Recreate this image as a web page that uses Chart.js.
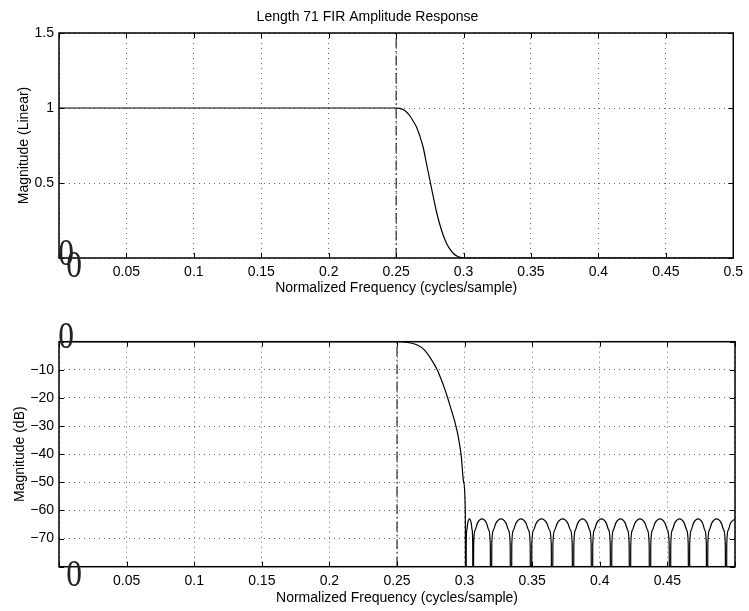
<!DOCTYPE html>
<html>
<head>
<meta charset="utf-8">
<script src="https://cdn.jsdelivr.net/npm/chart.js@4.4.0/dist/chart.umd.min.js"></script>
<style>
body { margin: 0; background: #fff; }
canvas { display: block; }
</style>
</head>
<body>
<canvas id="linChart" width="749" height="300"></canvas>
<canvas id="dbChart" width="749" height="311"></canvas>
<script>
// axis ticks
var xTicks = [0, 0.05, 0.1, 0.15, 0.2, 0.25, 0.3, 0.35, 0.4, 0.45, 0.5];
var xTickLabels = ['0', '0.05', '0.1', '0.15', '0.2', '0.25', '0.3', '0.35', '0.4', '0.45', '0.5'];
var linTicks = [0, 0.5, 1, 1.5];
var linTickLabels = ['0', '0.5', '1', '1.5'];
var dbTicks = [-80, -70, -60, -50, -40, -30, -20, -10, 0];
var dbTickLabels = ['', '\u221270', '\u221260', '\u221250', '\u221240', '\u221230', '\u221220', '\u221210', '0'];
var cutoff = 0.25;

// linear amplitude response
var linFreq = [0, 0.25, 0.2525, 0.255, 0.2575, 0.26, 0.2625, 0.265, 0.2675, 0.27, 0.2725, 0.275,
  0.2775, 0.28, 0.2825, 0.285, 0.2875, 0.29, 0.2925, 0.295, 0.2975, 0.3, 0.5];
var linMag = [1, 1, 0.998, 0.99, 0.975, 0.95, 0.915, 0.875, 0.815, 0.74, 0.63, 0.52,
  0.41, 0.305, 0.22, 0.15, 0.095, 0.057, 0.03, 0.013, 0.004, 0, 0];

// dB response: passband, transition, then stopband lobes (nulls drop below the axis)
var dbFreq = [0, 0.25, 0.255, 0.26, 0.265, 0.27, 0.275, 0.28, 0.2825, 0.285, 0.2875, 0.29,
  0.2925, 0.295, 0.2975, 0.2993, 0.3005,
  0.3010, 0.3012, 0.3016, 0.3023, 0.3036, 0.3049, 0.3056, 0.3060,
  0.3062, 0.3067, 0.3078, 0.3095, 0.3129, 0.3162, 0.3179, 0.3190,
  0.3195, 0.3201, 0.3213, 0.3232, 0.3269, 0.3306, 0.3325, 0.3337,
  0.3343, 0.3349, 0.3361, 0.3380, 0.3417, 0.3454, 0.3473, 0.3485,
  0.3491, 0.3497, 0.3510, 0.3530, 0.3569, 0.3608, 0.3628, 0.3641,
  0.3647, 0.3653, 0.3666, 0.3686, 0.3725, 0.3763, 0.3783, 0.3796,
  0.3802, 0.3808, 0.3819, 0.3837, 0.3872, 0.3907, 0.3925, 0.3936,
  0.3942, 0.3948, 0.3959, 0.3977, 0.4013, 0.4048, 0.4066, 0.4077,
  0.4083, 0.4089, 0.4100, 0.4118, 0.4153, 0.4188, 0.4206, 0.4217,
  0.4223, 0.4229, 0.4241, 0.4260, 0.4297, 0.4334, 0.4353, 0.4365,
  0.4371, 0.4377, 0.4389, 0.4408, 0.4445, 0.4482, 0.4501, 0.4513,
  0.4519, 0.4525, 0.4536, 0.4554, 0.4590, 0.4625, 0.4643, 0.4654,
  0.4660, 0.4665, 0.4676, 0.4693, 0.4727, 0.4760, 0.4777, 0.4788,
  0.4793, 0.4799, 0.4810, 0.4828, 0.4864, 0.4899, 0.4917, 0.4928,
  0.4934, 0.4939, 0.4950, 0.4967, 0.5000];
var dbMag = [0, 0, -0.1, -0.45, -1.2, -2.8, -6.0, -10.2, -13.2, -16.4, -20, -24,
  -28, -33, -40.5, -50, -60,
  -150, -72, -67, -64.5, -63, -64.5, -67, -72,
  -150, -72, -67, -64.5, -63, -64.5, -67, -72,
  -150, -72, -67, -64.5, -63, -64.5, -67, -72,
  -150, -72, -67, -64.5, -63, -64.5, -67, -72,
  -150, -72, -67, -64.5, -63, -64.5, -67, -72,
  -150, -72, -67, -64.5, -63, -64.5, -67, -72,
  -150, -72, -67, -64.5, -63, -64.5, -67, -72,
  -150, -72, -67, -64.5, -63, -64.5, -67, -72,
  -150, -72, -67, -64.5, -63, -64.5, -67, -72,
  -150, -72, -67, -64.5, -63, -64.5, -67, -72,
  -150, -72, -67, -64.5, -63, -64.5, -67, -72,
  -150, -72, -67, -64.5, -63, -64.5, -67, -72,
  -150, -72, -67, -64.5, -63, -64.5, -67, -72,
  -150, -72, -67, -64.5, -63, -64.5, -67, -72,
  -150, -72, -67, -64.5, -63];

Chart.defaults.font.family = "'Liberation Sans', Arial, sans-serif";
Chart.defaults.font.size = 14;
Chart.defaults.color = '#000';

function pts(xs, ys) {
  return xs.map(function (x, i) { return { x: x, y: ys[i] }; });
}

// box, inward tick marks and the odd serif zeros
var framePlugin = {
  id: 'frame',
  afterDraw: function (chart) {
    var ctx = chart.ctx, a = chart.chartArea, sx = chart.scales.x, sy = chart.scales.y;
    ctx.save();
    ctx.strokeStyle = '#000';
    ctx.lineWidth = 1;
    ctx.beginPath();
    sx.ticks.forEach(function (t) {
      var px = Math.round(sx.getPixelForValue(t.value)) + 0.5;
      ctx.moveTo(px, a.bottom); ctx.lineTo(px, a.bottom - 5);
      ctx.moveTo(px, a.top); ctx.lineTo(px, a.top + 5);
    });
    sy.ticks.forEach(function (t) {
      var py = Math.round(sy.getPixelForValue(t.value)) + 0.5;
      ctx.moveTo(a.left, py); ctx.lineTo(a.left + 5, py);
      ctx.moveTo(a.right, py); ctx.lineTo(a.right - 5, py);
    });
    ctx.stroke();
    ctx.lineWidth = 1.5;
    ctx.strokeRect(a.left, a.top, a.right - a.left, a.bottom - a.top);

    ctx.fillStyle = '#222';
    ctx.font = "37px 'Liberation Serif', serif";
    ctx.textAlign = 'center';
    ctx.textBaseline = 'alphabetic';
    function zero(cx, by) {
      ctx.save();
      ctx.translate(cx, by);
      ctx.scale(0.85, 1);
      ctx.fillText('0', 0, 0);
      ctx.restore();
    }
    zero(a.left + 7, sy.getPixelForValue(0) + 6.5);
    zero(sx.getPixelForValue(0) + 15, a.bottom + 19);
    ctx.restore();
  }
};

function makeOpts(cfg) {
  return {
    responsive: false,
    animation: false,
    layout: { padding: { top: cfg.padTop, right: 14, left: 0, bottom: 0 } },
    plugins: {
      legend: { display: false },
      tooltip: { enabled: false },
      title: cfg.title ? {
        display: true,
        text: cfg.title,
        font: { size: 14, weight: 'normal' },
        color: '#000',
        padding: { top: 8.3, bottom: 7.9 }
      } : { display: false }
    },
    scales: {
      x: {
        type: 'linear',
        min: 0, max: 0.5,
        afterBuildTicks: function (s) { s.ticks = xTicks.map(function (v) { return { value: v }; }); },
        afterFit: function (s) { s.height = cfg.xHeight; },
        ticks: {
          padding: 6, autoSkip: false, maxRotation: 0,
          callback: function (v, i) {
            if (v === 0) return '';
            if (cfg.hideLastX && v === 0.5) return '';
            return xTickLabels[i];
          }
        },
        grid: { color: 'rgba(0,0,0,0.6)', lineWidth: 1, drawTicks: false },
        border: { display: false, dash: [1, 4] },
        title: { display: true, text: 'Normalized Frequency (cycles/sample)', padding: { top: 0, bottom: cfg.xTitlePad } }
      },
      y: {
        type: 'linear',
        min: cfg.yMin, max: cfg.yMax,
        afterBuildTicks: function (s) { s.ticks = cfg.yTicks.map(function (v) { return { value: v }; }); },
        afterFit: function (s) { s.width = 59; },
        ticks: {
          padding: 5,
          callback: function (v, i) { return v === 0 ? '' : cfg.yLabels[i]; }
        },
        grid: { color: 'rgba(0,0,0,0.6)', lineWidth: 1, drawTicks: false },
        border: { display: false, dash: [1, 4] },
        title: { display: true, text: cfg.yTitle, padding: { top: cfg.yTitlePad, bottom: 0 } }
      }
    }
  };
}

new Chart(document.getElementById('linChart'), {
  type: 'line',
  data: {
    datasets: [{
      data: pts(linFreq, linMag),
      borderColor: '#000', borderWidth: 1.2, pointRadius: 0,
      cubicInterpolationMode: 'monotone', fill: false
    }, {
      data: pts([cutoff, cutoff], [0, 1.5]),
      borderColor: '#000', borderWidth: 1, pointRadius: 0,
      borderDash: [10, 3, 1.5, 3], fill: false
    }]
  },
  options: makeOpts({
    title: 'Length 71 FIR Amplitude Response', padTop: 0, xHeight: 42, xTitlePad: 3.6,
    yMin: 0, yMax: 1.5, yTicks: linTicks, yLabels: linTickLabels,
    yTitle: 'Magnitude (Linear)', yTitlePad: 15.5, hideLastX: false
  }),
  plugins: [framePlugin]
});

new Chart(document.getElementById('dbChart'), {
  type: 'line',
  data: {
    datasets: [{
      data: pts(dbFreq, dbMag),
      borderColor: '#000', borderWidth: 1.2, pointRadius: 0,
      cubicInterpolationMode: 'monotone', fill: false
    }, {
      data: pts([cutoff, cutoff], [-80, 0]),
      borderColor: '#000', borderWidth: 1, pointRadius: 0,
      borderDash: [10, 3, 1.5, 3], fill: false
    }]
  },
  options: makeOpts({
    title: null, padTop: 41.7, xHeight: 44.3, xTitlePad: 4.6,
    yMin: -80, yMax: 0, yTicks: dbTicks, yLabels: dbTickLabels,
    yTitle: 'Magnitude (dB)', yTitlePad: 12, hideLastX: true
  }),
  plugins: [framePlugin]
});
</script>
</body>
</html>
